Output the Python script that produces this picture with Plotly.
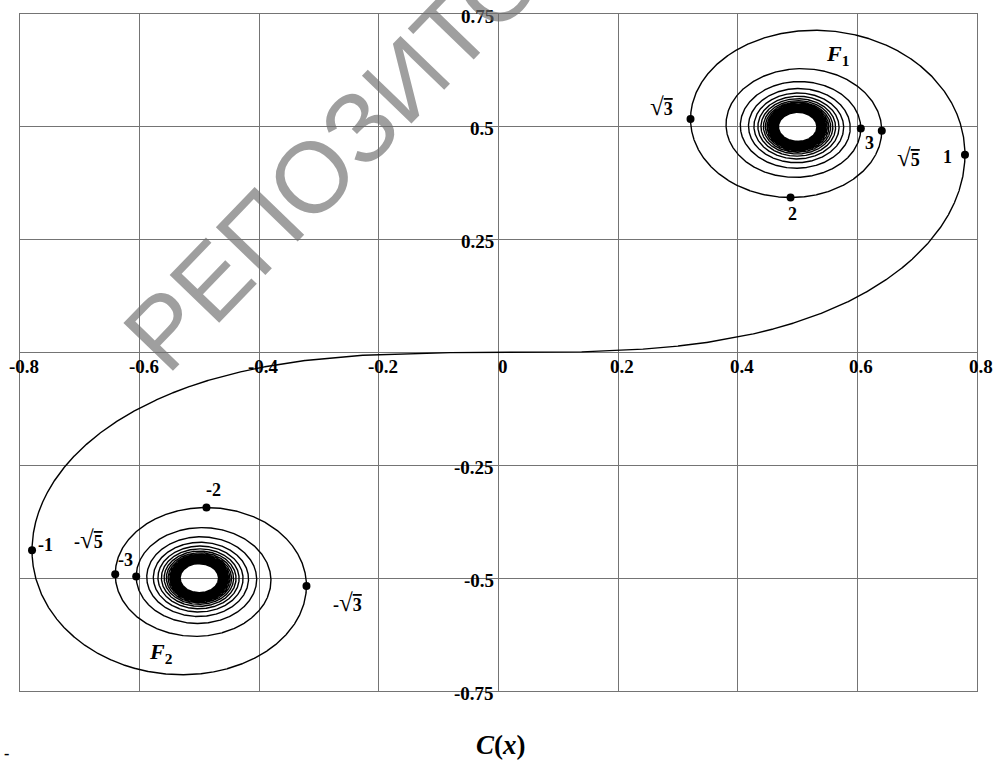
import numpy as np
import plotly.graph_objects as go

# ---- data ----
t_max = 10.0
marked_params = [1.0, np.sqrt(3), 2.0, np.sqrt(5), 3.0,
                 -1.0, -np.sqrt(3), -2.0, -np.sqrt(5), -3.0]

RAD = '<span style="font-size:25px">√</span><span style="text-decoration:overline">{}</span>'
point_labels = ["1", RAD.format("3"), "2", RAD.format("5"), "3",
                "-1", "-" + RAD.format("3"), "-2", "-" + RAD.format("5"), "-3",
                "<i>F</i><sub>1</sub>", "<i>F</i><sub>2</sub>"]
label_x = [0.750, 0.272, 0.491, 0.685, 0.621, -0.757, -0.252, -0.477, -0.686, -0.624, 0.566, -0.564]
label_y = [0.433, 0.544, 0.307, 0.431, 0.464, -0.427, -0.555, -0.305, -0.415, -0.460, 0.659, -0.666]

x_ticks = [-0.8, -0.6, -0.4, -0.2, 0.0, 0.2, 0.4, 0.6, 0.8]
x_tick_text = ["-0.8", "-0.6", "-0.4", "-0.2", "0", "0.2", "0.4", "0.6", "0.8"]
y_ticks = [0.75, 0.5, 0.25, -0.25, -0.5, -0.75]
y_tick_text = ["0.75", "0.5", "0.25", "-0.25", "-0.5", "-0.75"]

# ---- Fresnel integrals C(x), S(x) (numerical integration) ----
t = np.linspace(0.0, t_max, 20001)
dt = t[1] - t[0]
fc = np.cos(np.pi * t ** 2 / 2)
fs = np.sin(np.pi * t ** 2 / 2)
C = np.concatenate([[0.0], np.cumsum((fc[1:] + fc[:-1]) * dt / 2)])
S = np.concatenate([[0.0], np.cumsum((fs[1:] + fs[:-1]) * dt / 2)])
t_all = np.concatenate([-t[::-1], t[1:]])
C_all = np.concatenate([-C[::-1], C[1:]])
S_all = np.concatenate([-S[::-1], S[1:]])

mp = np.array(marked_params)
mx = np.interp(mp, t_all, C_all)
my = np.interp(mp, t_all, S_all)

fig = go.Figure()
fig.add_trace(go.Scatter(x=C_all, y=S_all, mode="lines",
                         line=dict(color="black", width=1.4), hoverinfo="skip"))
fig.add_trace(go.Scatter(x=mx, y=my, mode="markers",
                         marker=dict(color="black", size=8), hoverinfo="skip"))

serif = "Liberation Serif, Times New Roman, serif"
ann = []
for v, s in zip(x_ticks, x_tick_text):
    ann.append(dict(x=v, y=0, xref="x", yref="y", text=f"<b>{s}</b>", showarrow=False,
                    xanchor="center", yanchor="top", xshift=4, yshift=-1,
                    font=dict(family=serif, size=19, color="black")))
for v, s in zip(y_ticks, y_tick_text):
    ann.append(dict(x=0, y=v, xref="x", yref="y", text=f"<b>{s}</b>", showarrow=False,
                    xanchor="right", yanchor="middle", xshift=-3, yshift=-2,
                    font=dict(family=serif, size=19, color="black")))
for s, lx, ly in zip(point_labels, label_x, label_y):
    big = s.startswith("<i>")
    ann.append(dict(x=lx, y=ly, xref="x", yref="y", text=f"<b>{s}</b>", showarrow=False,
                    xanchor="center", yanchor="middle",
                    font=dict(family=serif, size=22 if big else 18, color="black")))
# axis title
ann.append(dict(x=0.503, y=-0.0797, xref="paper", yref="paper",
                text="<b><i>C</i>(<i>x</i>)</b>", showarrow=False,
                xanchor="center", yanchor="middle",
                font=dict(family=serif, size=27, color="black")))
ann.append(dict(x=0.0, y=-0.092, xref="paper", yref="paper", text="<b>-</b>", showarrow=False,
                xanchor="right", yanchor="middle", xshift=-9,
                font=dict(family=serif, size=16, color="black")))
# watermark
ann.append(dict(x=(406 - 20) / 957, y=(691 - 79) / 677, xref="paper", yref="paper",
                text="РЕПОЗИТОРИЙ", showarrow=False, textangle=-46,
                xanchor="center", yanchor="middle",
                font=dict(family="Liberation Sans", size=100, color="rgba(110,110,110,0.66)")))

grid = "#747474"
fig.update_layout(
    width=995, height=760,
    margin=dict(l=20, r=18, t=14, b=69),
    paper_bgcolor="white", plot_bgcolor="white",
    showlegend=False,
    annotations=ann,
    xaxis=dict(range=[-0.8, 0.8], tick0=0, dtick=0.2, showgrid=True, gridcolor=grid, gridwidth=1,
               zeroline=True, zerolinecolor=grid, zerolinewidth=1.3,
               showline=True, mirror=True, linecolor=grid, linewidth=1,
               showticklabels=False, ticks=""),
    yaxis=dict(range=[-0.75, 0.75], tick0=0, dtick=0.25, showgrid=True, gridcolor=grid, gridwidth=1,
               zeroline=True, zerolinecolor=grid, zerolinewidth=1.3,
               showline=True, mirror=True, linecolor=grid, linewidth=1,
               showticklabels=False, ticks=""),
)
fig.write_html("out.html")
